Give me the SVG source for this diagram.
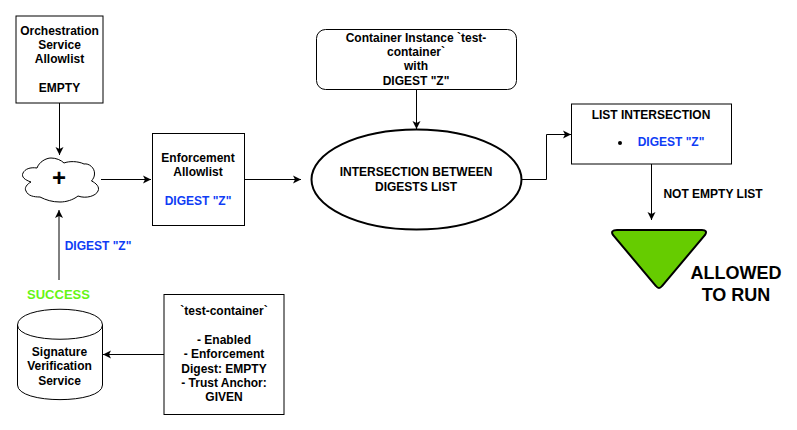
<svg xmlns="http://www.w3.org/2000/svg" width="797" height="430" viewBox="0 0 797 430">
<style>
text{font-family:"Liberation Sans",Arial,sans-serif;font-weight:700;font-size:12px;text-anchor:middle;fill:#000}
.b{fill:#fff;stroke:#000;stroke-width:1}
.c{fill:none;stroke:#000;stroke-width:1}
.blue{fill:#0f3cf5}
</style>
<defs>
<marker id="a" markerUnits="userSpaceOnUse" markerWidth="10" markerHeight="10" refX="8" refY="4.5" orient="auto"><path d="M0 0.500L8 4.500L0 8.500L2 4.500Z" fill="#000"/></marker>
</defs>
<rect width="797" height="430" fill="#fff"/>
<g id="connectors">
<path class="c" d="M59.500 103V155" marker-end="url(#a)"/>
<path class="c" d="M101 179.500H151" marker-end="url(#a)"/>
<path class="c" d="M244.500 179.500H301" marker-end="url(#a)"/>
<path class="c" d="M59 280V210" marker-end="url(#a)"/>
<path class="c" d="M164 354.500H103" marker-end="url(#a)"/>
<path class="c" d="M416.500 89V129" marker-end="url(#a)"/>
<path class="c" d="M522 179.500H546.500V134.500H571" marker-end="url(#a)"/>
<path class="c" d="M651.500 164V220" marker-end="url(#a)"/>
</g>
<g id="orchestration">
<rect class="b" x="16" y="16" width="87" height="87"/>
<text x="59.500" y="35">Orchestration</text><text x="59.500" y="49">Service</text><text x="59.500" y="63">Allowlist</text><text x="59.500" y="92">EMPTY</text>
</g>
<g id="cloud">
<path class="b" d="M31 182C25 180 21 177 23 173C25 169 30 167 37 168C39 162 46 158 51 158C56 158 61 160 64 163C69 161 78 161 84 164C89 163 95 168 94.500 174C94.500 177 93 179 91.500 181C96 183 100 187 98 191C96 196 86 199 78 196C73 200 66 202 60 202C52 202 46 200 40 197C34 197 28 196 26 191C24 188 27 184 31 182Z"/>
<text x="59" y="186" style="font-size:24px">+</text>
</g>
<g id="enforcement">
<rect class="b" x="152.500" y="133.500" width="92" height="92"/>
<text x="198" y="162">Enforcement</text><text x="198" y="176">Allowlist</text><text class="blue" x="198" y="205">DIGEST "Z"</text>
</g>
<g id="digest-label"><text class="blue" x="98" y="250">DIGEST "Z"</text></g>
<g id="success"><text x="58.500" y="299" style="font-size:13px;fill:#66f514">SUCCESS</text></g>
<g id="signature">
<path class="b" d="M17.500 325C17.500 304 102.500 304 102.500 325V385C102.500 404.500 17.500 404.500 17.500 385Z"/>
<path class="c" d="M17.500 325C17.500 344 102.500 344 102.500 325"/>
<text x="59.500" y="356">Signature</text><text x="59.500" y="370">Verification</text><text x="59.500" y="385">Service</text>
</g>
<g id="test-container">
<rect class="b" x="164" y="294.500" width="120" height="120"/>
<text x="224" y="315">`test-container`</text><text x="224" y="344">- Enabled</text><text x="224" y="358">- Enforcement</text><text x="224" y="373">Digest: EMPTY</text><text x="224" y="387">- Trust Anchor:</text><text x="224" y="401">GIVEN</text>
</g>
<g id="container-instance">
<rect class="b" x="316.500" y="29.500" width="200" height="60" rx="9"/>
<text x="416" y="42">Container Instance `test-</text><text x="416" y="56">container`</text><text x="416" y="70">with</text><text x="416" y="85">DIGEST "Z"</text>
</g>
<g id="intersection">
<ellipse cx="416.500" cy="179.500" rx="105" ry="50" fill="#fff" stroke="#000" stroke-width="2"/>
<text x="416" y="176">INTERSECTION BETWEEN</text><text x="416" y="191">DIGESTS LIST</text>
</g>
<g id="list-intersection">
<rect class="b" x="571.500" y="104" width="160" height="60"/>
<text x="651" y="119">LIST INTERSECTION</text><circle cx="620" cy="143" r="2" fill="#000"/><text class="blue" x="671" y="146">DIGEST "Z"</text>
</g>
<g id="not-empty"><text x="713" y="198">NOT EMPTY LIST</text></g>
<g id="allowed">
<path d="M617 230H702Q708 230 705 235L662 286Q659 290 656 286L613 235Q610 230 617 230Z" fill="#66cc00" stroke="#000" stroke-width="2"/>
<text x="736" y="279" style="font-size:18px">ALLOWED</text><text x="736" y="301" style="font-size:18px">TO RUN</text>
</g>
</svg>
